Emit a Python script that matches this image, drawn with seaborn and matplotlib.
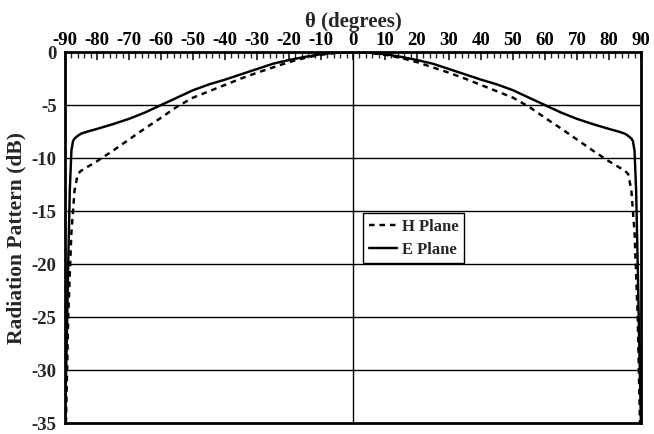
import matplotlib
matplotlib.use("Agg")
import matplotlib.pyplot as plt
from matplotlib.ticker import MultipleLocator
import seaborn as sns
import pandas as pd

# ---- data ----
theta_e = [-90, -89.5, -89, -88.5, -88, -87.5, -87, -86, -85, -83, -80, -75, -70, -65, -60,
           -55, -50, -45, -40, -35, -30, -25, -20, -15, -10, -5, 0,
           5, 10, 15, 20, 25, 30, 35, 40, 45, 50, 55, 60, 65, 70, 75, 80, 83, 85, 86, 87,
           87.5, 88, 88.5, 89, 89.5, 90]
db_e = [-35, -28, -20, -13, -9.3, -8.4, -8.15, -7.9, -7.7, -7.5, -7.25, -6.8, -6.3, -5.7, -5.0,
        -4.3, -3.6, -3.05, -2.6, -2.1, -1.6, -1.1, -0.75, -0.45, -0.2, -0.05, 0,
        -0.05, -0.2, -0.45, -0.75, -1.1, -1.6, -2.1, -2.6, -3.05, -3.6, -4.3, -5.0, -5.7, -6.3,
        -6.8, -7.25, -7.5, -7.7, -7.9, -8.15, -8.4, -9.3, -13, -20, -28, -35]

theta_h = [-89.7, -89, -88, -87, -86, -85, -80, -75, -70, -65, -60, -55, -50, -45, -40,
           -35, -30, -25, -20, -15, -10, -5, 0,
           5, 10, 15, 20, 25, 30, 35, 40, 45, 50, 55, 60, 65, 70, 75, 80, 85, 86, 87, 88,
           89, 89.7]
db_h = [-35, -25, -17, -13, -11.5, -11.2, -10.3, -9.3, -8.25, -7.2, -6.2, -5.15, -4.3, -3.7,
        -3.1, -2.5, -1.95, -1.45, -0.95, -0.55, -0.25, -0.07, 0,
        -0.07, -0.25, -0.55, -0.95, -1.45, -1.95, -2.5, -3.1, -3.7, -4.3, -5.15, -6.2, -7.2,
        -8.25, -9.3, -10.3, -11.2, -11.5, -13, -17, -25, -35]

series_names = ["H Plane", "E Plane"]
x_ticks = list(range(-90, 91, 10))
y_ticks = list(range(-35, 1, 5))

df = pd.concat([
    pd.DataFrame({"theta": theta_h, "dB": db_h, "plane": series_names[0]}),
    pd.DataFrame({"theta": theta_e, "dB": db_e, "plane": series_names[1]}),
], ignore_index=True)

# ---- style ----
sns.set_style("white")
plt.rcParams["font.family"] = ["Liberation Serif", "DejaVu Serif"]
plt.rcParams["font.weight"] = "bold"

fig = plt.figure(figsize=(6.54, 4.34), dpi=100)
ax = fig.add_axes([0.0994, 0.0253, 0.8806, 0.8547])

sns.lineplot(data=df, x="theta", y="dB", hue="plane", style="plane",
             hue_order=series_names, style_order=series_names,
             palette=["black", "black"],
             dashes={"H Plane": (2.3, 2.0), "E Plane": ""},
             sort=False, estimator=None, linewidth=1.75, ax=ax)

ax.set_xlim(-90, 90)
ax.set_ylim(-35, 0)

# grid: horizontal lines at every 5 dB and vertical line at 0
for y in y_ticks[1:-1]:
    ax.axhline(y, color="black", linewidth=1.0, zorder=1)
ax.axvline(0, color="black", linewidth=1.0, zorder=1)

ax.xaxis.tick_top()
ax.xaxis.set_label_position("top")
ax.set_xticks(x_ticks)
ax.set_xticklabels([str(t) for t in x_ticks])
ax.xaxis.set_minor_locator(MultipleLocator(2))
ax.tick_params(axis="x", which="major", direction="in", length=6, width=1.1,
               labelsize=13.5, pad=2, top=True, bottom=False, colors="black")
ax.tick_params(axis="x", which="minor", direction="in", length=4, width=1.0,
               top=True, bottom=False)
ax.set_yticks(y_ticks)
ax.set_yticklabels([str(t) for t in y_ticks])
ax.tick_params(axis="y", which="both", length=0, labelsize=13.5, pad=6)
for lab in ax.get_xticklabels() + ax.get_yticklabels():
    lab.set_fontweight("bold")

ax.set_xlabel("θ (degrees)", fontsize=15, fontweight="bold", labelpad=4)
ax.set_ylabel("Radiation Pattern (dB)", fontsize=15.5, fontweight="bold", labelpad=4)

for sp in ax.spines.values():
    sp.set_visible(True)
    sp.set_color("black")
    sp.set_linewidth(2.0)

leg = ax.legend(loc="upper left", bbox_to_anchor=(0.517, 0.566), frameon=True,
                fancybox=False, edgecolor="black", framealpha=1,
                prop={"size": 12, "weight": "bold"}, handlelength=1.7,
                handletextpad=0.3, borderpad=0.35, labelspacing=0.4,
                borderaxespad=0)
leg.get_frame().set_linewidth(1.0)

fig.savefig("out.png", dpi=100)
